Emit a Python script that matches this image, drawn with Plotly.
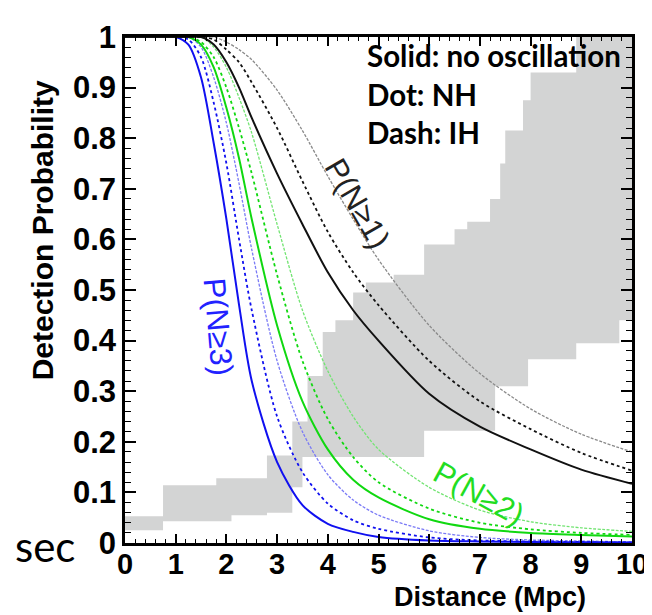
import plotly.graph_objects as go

# ---------------- data ----------------
distance = [0, 0.5, 1, 1.25, 1.5, 1.75, 2, 2.25, 2.5, 3, 3.5, 4, 4.5, 5, 6, 7, 8, 9, 10]

p3_solid = [1, 1, 1, 0.985, 0.92, 0.79, 0.64, 0.47, 0.32, 0.16, 0.075, 0.038, 0.022, 0.012, 0.005, 0.003, 0.002, 0.0015, 0.001]
p3_dot   = [1, 1, 1, 0.995, 0.96, 0.87, 0.75, 0.60, 0.46, 0.25, 0.14, 0.078, 0.045, 0.028, 0.011, 0.005, 0.003, 0.002, 0.001]
p3_dash  = [1, 1, 1, 1, 0.98, 0.92, 0.83, 0.71, 0.58, 0.36, 0.22, 0.135, 0.085, 0.055, 0.024, 0.011, 0.006, 0.004, 0.002]

p2_solid = [1, 1, 1, 1, 0.985, 0.94, 0.86, 0.76, 0.64, 0.43, 0.28, 0.185, 0.125, 0.09, 0.047, 0.028, 0.02, 0.016, 0.013]
p2_dot   = [1, 1, 1, 1, 0.99, 0.96, 0.90, 0.82, 0.73, 0.53, 0.36, 0.245, 0.17, 0.12, 0.068, 0.04, 0.027, 0.02, 0.016]
p2_dash  = [1, 1, 1, 1, 1, 0.98, 0.94, 0.88, 0.81, 0.63, 0.46, 0.34, 0.25, 0.185, 0.11, 0.065, 0.042, 0.03, 0.023]

p1_solid = [1, 1, 1, 1, 1, 0.985, 0.95, 0.90, 0.84, 0.73, 0.63, 0.535, 0.46, 0.40, 0.295, 0.23, 0.185, 0.145, 0.117]
p1_dot   = [1, 1, 1, 1, 1, 0.995, 0.975, 0.95, 0.91, 0.82, 0.715, 0.615, 0.535, 0.47, 0.36, 0.28, 0.225, 0.178, 0.143]
p1_dash  = [1, 1, 1, 1, 1, 1, 0.99, 0.975, 0.955, 0.895, 0.815, 0.725, 0.64, 0.56, 0.43, 0.335, 0.265, 0.215, 0.18]

# gray band (step function edges, values per interval)
band_upper_edges = [0, 0.75, 1.8, 2.8, 3.3, 3.6, 3.9, 4.15, 4.5, 4.75, 5.3, 5.9, 6.5, 6.75, 7.2, 7.4, 7.5, 7.85, 8.0, 8.9, 10]
band_upper_vals  = [0.053, 0.114, 0.128, 0.173, 0.24, 0.33, 0.417, 0.44, 0.495, 0.515, 0.53, 0.59, 0.62, 0.635, 0.68, 0.75, 0.815, 0.875, 0.93, 1.0]
band_lower_edges = [0, 0.75, 2.1, 2.8, 3.3, 3.5, 5.9, 7.3, 7.95, 8.9, 9.75, 10]
band_lower_vals  = [0.025, 0.043, 0.055, 0.06, 0.11, 0.17, 0.222, 0.31, 0.363, 0.395, 0.44]

x_ticks = list(range(0, 11))
x_tick_text = [str(t) for t in x_ticks]
y_ticks = [0, 0.1, 0.2, 0.3, 0.4, 0.5, 0.6, 0.7, 0.8, 0.9, 1]
y_tick_text = ["0", "0.1", "0.2", "0.3", "0.4", "0.5", "0.6", "0.7", "0.8", "0.9", "1"]


def step_path(edges, vals):
    xs, ys = [], []
    for i, v in enumerate(vals):
        xs += [edges[i], edges[i + 1]]
        ys += [v, v]
    return xs, ys


ux, uy = step_path(band_upper_edges, band_upper_vals)
lx, ly = step_path(band_lower_edges, band_lower_vals)
poly_x = ux + lx[::-1]
poly_y = uy + ly[::-1]

fig = go.Figure()
fig.add_trace(go.Scatter(x=poly_x, y=poly_y, fill="toself", fillcolor="#d3d4d4",
                         line=dict(width=0), mode="lines", hoverinfo="skip", showlegend=False))

groups = [
    (p3_solid, p3_dot, p3_dash, "#1010f0", "#7a7af6"),
    (p2_solid, p2_dot, p2_dash, "#10d810", "#72e472"),
    (p1_solid, p1_dot, p1_dash, "#111111", "#8a8a8a"),
]
for solid, dot, dash, c, c_light in groups:
    fig.add_trace(go.Scatter(x=distance, y=dash, mode="lines", showlegend=False,
                             line=dict(color=c_light, width=1.3, dash="3px,1.5px", shape="spline", smoothing=0.8)))
    fig.add_trace(go.Scatter(x=distance, y=dot, mode="lines", showlegend=False,
                             line=dict(color=c, width=1.8, dash="dot", shape="spline", smoothing=0.8)))
    fig.add_trace(go.Scatter(x=distance, y=solid, mode="lines", showlegend=False,
                             line=dict(color=c, width=2, shape="spline", smoothing=0.8)))

fig.update_xaxes(range=[0, 10], tickvals=x_ticks, ticktext=["<b>%s</b>" % t for t in x_tick_text],
                 ticks="inside", ticklen=9, tickwidth=1.5, tickcolor="black", ticklabelstandoff=-7,
                 minor=dict(dtick=0.2, ticks="inside", ticklen=4, tickwidth=1.2, tickcolor="black"),
                 showline=True, linewidth=2.5, linecolor="black", mirror="allticks",
                 showgrid=False, zeroline=False,
                 tickfont=dict(family="Liberation Sans", size=29, color="black"))
fig.update_yaxes(range=[0, 1], tickvals=y_ticks, ticktext=["<b>%s</b>" % t for t in y_tick_text],
                 ticks="inside", ticklen=11, tickwidth=1.5, tickcolor="black",
                 minor=dict(dtick=0.02, ticks="inside", ticklen=6, tickwidth=1.2, tickcolor="black"),
                 showline=True, linewidth=2.5, linecolor="black", mirror="allticks",
                 showgrid=False, zeroline=False,
                 tickfont=dict(family="Liberation Sans", size=31, color="black"))

ann = [
    dict(text="<b>Detection Probability</b>", x=34, y=220, textangle=-90,
         font=dict(family="Liberation Sans", size=30, color="black")),
    dict(text="<b>Distance (Mpc)</b>", x=484, y=589,
         font=dict(family="Liberation Sans", size=27, color="black")),
    dict(text="sec", x=37, y=538, font=dict(family="Lato", size=42, color="black")),
    dict(text="P(N\u22651)", x=351, y=193, textangle=60,
         font=dict(family="Liberation Sans", size=31, color="#222222")),
    dict(text="P(N\u22653)", x=211, y=318, textangle=85,
         font=dict(family="Liberation Sans", size=31, color="#2222ff")),
    dict(text="P(N\u22652)", x=473, y=485, textangle=29,
         font=dict(family="Liberation Sans", size=31, color="#22dd22")),
]
annotations = []
for a in ann:
    d = dict(xref="paper", yref="paper", showarrow=False, xanchor="center", yanchor="middle")
    a = dict(a)
    a["x"] = (a["x"] - 117) / 510
    a["y"] = (535 - a["y"]) / 509
    d.update(a)
    annotations.append(d)

legend_lines = ["Solid: no oscillation", "Dot: NH", "Dash: IH"]
for i, t in enumerate(legend_lines):
    annotations.append(dict(xref="paper", yref="paper", showarrow=False, xanchor="left", yanchor="middle",
                            x=(358 - 117) / 510, y=(535 - (45 + 38.5 * i)) / 509, text="<b>%s</b>" % t,
                            font=dict(family="Lato", size=29.5, color="black")))

fig.update_layout(width=652, height=615, margin=dict(l=117, r=25, t=26, b=80),
                  paper_bgcolor="white", plot_bgcolor="white", annotations=annotations)

fig.write_html("out.html")
